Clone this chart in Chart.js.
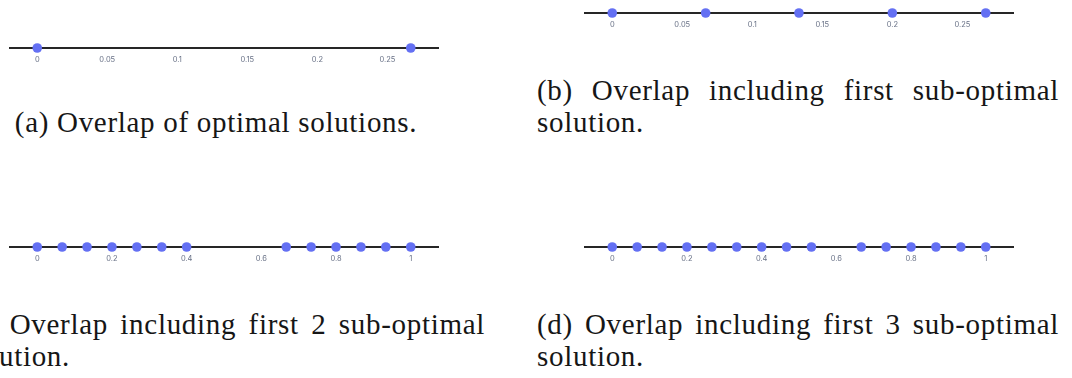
<!DOCTYPE html>
<html>
<head>
<meta charset="utf-8">
<script src="https://cdn.jsdelivr.net/npm/chart.js@4.4.1/dist/chart.umd.min.js"></script>
<style>
  body { margin: 0; width: 1072px; height: 378px; overflow: hidden; background: #fff; position: relative; }
  .strip { position: absolute; }
  .cap {
    position: absolute; width: 522px;
    font-family: 'Liberation Serif', serif; font-size: 29px; line-height: 32px;
    letter-spacing: 0.7px; text-align: justify; color: #161616;
  }
</style>
</head>
<body>

<div class="strip" style="left:5px;top:34px"><canvas id="lineA" width="438" height="30"></canvas></div>
<div class="strip" style="left:580px;top:-1px"><canvas id="lineB" width="438" height="30"></canvas></div>
<div class="strip" style="left:5px;top:233px"><canvas id="lineC" width="438" height="30"></canvas></div>
<div class="strip" style="left:580px;top:233px"><canvas id="lineD" width="438" height="30"></canvas></div>

<div class="cap" style="left:-45px;top:106px;text-align:center">(a) Overlap of optimal solutions.</div>
<div class="cap" style="left:537px;top:74px">(b) Overlap including first sub-optimal solution.</div>
<div class="cap" style="left:-37px;top:308px">(c) Overlap including first 2 sub-optimal solution.</div>
<div class="cap" style="left:537px;top:308px">(d) Overlap including first 3 sub-optimal solution.</div>

<script>
// solution positions
const optimal = [0, 0.2667];
const firstSub = [0, 0.0667, 0.1333, 0.2, 0.2667];
const first2Sub = [0, 0.0667, 0.1333, 0.2, 0.2667, 0.3333, 0.4, 0.6667, 0.7333, 0.8, 0.8667, 0.9333, 1];
const first3Sub = [0, 0.0667, 0.1333, 0.2, 0.2667, 0.3333, 0.4, 0.4667, 0.5333, 0.6667, 0.7333, 0.8, 0.8667, 0.9333, 1];

// tick labels
const smallTicks = [0, 0.05, 0.1, 0.15, 0.2, 0.25];
const unitTicks = [0, 0.2, 0.4, 0.6, 0.8, 1];

// axis ranges (the line runs a bit past the outer points)
const smallRange = [-0.0196, 0.2863];
const unitRange = [-0.0735, 1.0735];

const dotColor = '#6470f3';

function drawStrip(id, values, ticks, range) {
  const ctx = document.getElementById(id).getContext('2d');
  return new Chart(ctx, {
    type: 'scatter',
    data: {
      datasets: [{
        data: values.map(v => ({ x: v, y: 0 })),
        pointRadius: 4.8,
        pointHoverRadius: 4.8,
        pointBackgroundColor: dotColor,
        pointBorderWidth: 0,
        clip: false
      }]
    },
    options: {
      responsive: false,
      animation: false,
      layout: { padding: 0 },
      plugins: { legend: { display: false }, tooltip: { enabled: false } },
      scales: {
        x: {
          type: 'linear',
          position: 'bottom',
          min: range[0],
          max: range[1],
          grid: { display: false, drawTicks: false },
          border: { display: true, color: '#262626', width: 2 },
          afterBuildTicks: (scale) => { scale.ticks = ticks.map(v => ({ value: v })); },
          afterFit: (scale) => { scale.height = 16; },
          ticks: {
            autoSkip: false,
            maxRotation: 0,
            padding: 7,
            color: '#687186',
            font: { family: 'Inter', size: 7.5 },
            callback: (v) => String(v)
          }
        },
        y: { display: false, min: 0, max: 1 }
      }
    }
  });
}

drawStrip('lineA', optimal, smallTicks, smallRange);
drawStrip('lineB', firstSub, smallTicks, smallRange);
drawStrip('lineC', first2Sub, unitTicks, unitRange);
drawStrip('lineD', first3Sub, unitTicks, unitRange);
</script>
</body>
</html>
